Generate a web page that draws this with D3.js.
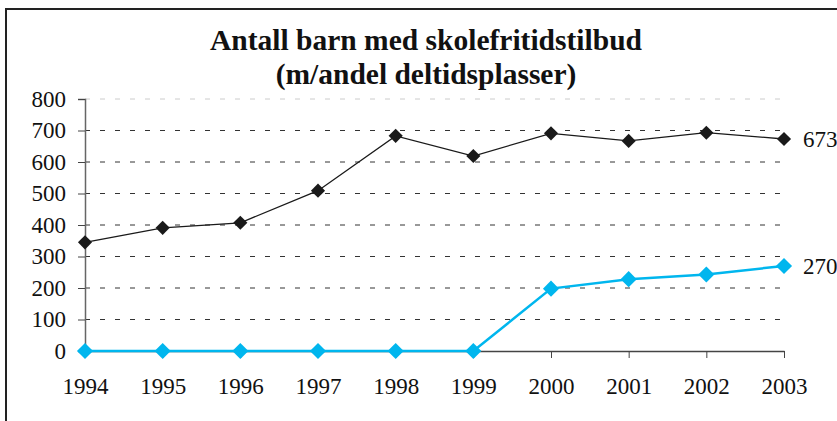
<!DOCTYPE html>
<html>
<head>
<meta charset="utf-8">
<script src="https://cdn.jsdelivr.net/npm/d3@7"></script>
<style>
  body { margin: 0; background: #fff; }
  svg { display: block; }
</style>
</head>
<body>
<svg width="837" height="421"></svg>
<script>
// chart data
var years = [1994, 1995, 1996, 1997, 1998, 1999, 2000, 2001, 2002, 2003];
var totalBarn = [345, 391, 407, 509, 683, 619, 691, 667, 693, 673];
var deltid = [0, 0, 0, 0, 0, 0, 198, 228, 243, 270];
var yTicks = [0, 100, 200, 300, 400, 500, 600, 700, 800];
var titleLines = ["Antall barn med skolefritidstilbud", "(m/andel deltidsplasser)"];

var svg = d3.select("svg");
var serif = "'Liberation Serif', 'Times New Roman', serif";

// outer frame (cut off on the right and bottom)
svg.append("rect")
    .attr("x", 6).attr("y", 9)
    .attr("width", 900).attr("height", 500)
    .attr("fill", "none")
    .attr("stroke", "#222")
    .attr("stroke-width", 2);

var x = d3.scalePoint().domain(years).range([85, 784]);
var y = d3.scaleLinear().domain([0, 800]).range([351, 99]);

// title
svg.append("g").selectAll("text")
    .data(titleLines)
    .enter().append("text")
    .attr("x", 426)
    .attr("y", function(d, i) { return 50 + i * 34; })
    .attr("text-anchor", "middle")
    .attr("font-family", serif)
    .attr("font-weight", "bold")
    .attr("font-size", 29.5)
    .attr("fill", "#111")
    .text(function(d) { return d; });

// gridlines
svg.append("g").selectAll("line")
    .data(yTicks.filter(function(d) { return d > 0; }))
    .enter().append("line")
    .attr("x1", 85).attr("x2", 784)
    .attr("y1", function(d) { return y(d); })
    .attr("y2", function(d) { return y(d); })
    .attr("stroke", function(d) { return d == 800 ? "#ccc" : "#333"; })
    .attr("stroke-width", 1)
    .attr("stroke-dasharray", "5,10");

// y axis
var yAxis = svg.append("g")
    .attr("transform", "translate(85,0)")
    .call(d3.axisLeft(y).tickValues(yTicks).tickSize(7).tickPadding(12));
yAxis.select(".domain").attr("stroke", "#666").attr("stroke-width", 1.5);
yAxis.selectAll(".tick line").attr("stroke", "#444");
yAxis.selectAll("text")
    .attr("font-family", serif)
    .attr("font-size", 23)
    .attr("fill", "#111");

// x axis
var xAxis = svg.append("g")
    .attr("transform", "translate(0,351)")
    .call(d3.axisBottom(x).tickSize(7).tickPadding(20).tickSizeOuter(0));
xAxis.select(".domain").attr("stroke", "#444").attr("stroke-width", 1.5);
xAxis.selectAll(".tick line").attr("stroke", "#444");
xAxis.selectAll("text")
    .attr("font-family", serif)
    .attr("font-size", 23)
    .attr("fill", "#111");

var line = d3.line()
    .x(function(d, i) { return x(years[i]); })
    .y(function(d) { return y(d); });

function drawSeries(values, color, width, size) {
    var g = svg.append("g");
    g.append("path")
        .datum(values)
        .attr("d", line)
        .attr("fill", "none")
        .attr("stroke", color)
        .attr("stroke-width", width);
    g.selectAll("path.pt")
        .data(values)
        .enter().append("path")
        .attr("class", "pt")
        .attr("d", d3.symbol().type(d3.symbolSquare).size(size))
        .attr("transform", function(d, i) {
            return "translate(" + x(years[i]) + "," + y(d) + ") rotate(45)";
        })
        .attr("fill", color);
    var last = values.length - 1;
    g.append("text")
        .attr("x", x(years[last]) + 19)
        .attr("y", y(values[last]))
        .attr("dy", "0.35em")
        .attr("font-family", serif)
        .attr("font-size", 23)
        .attr("fill", "#111")
        .text(values[last]);
}

drawSeries(totalBarn, "#1a1a1a", 1.3, 100);
drawSeries(deltid, "#00b6ee", 2.5, 130);
</script>
</body>
</html>
